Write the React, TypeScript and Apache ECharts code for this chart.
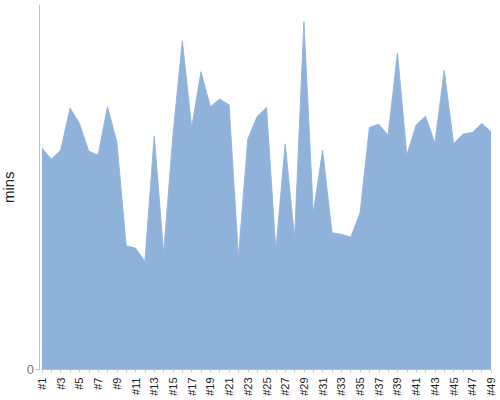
import React, { useEffect, useRef } from "react";
import * as echarts from "echarts";

const categories: string[] = Array.from({ length: 49 }, (_, i) => "#" + (i + 1));

const minutes: number[] = [
  60.7, 57.7, 60.2, 71.7, 67.5, 59.9, 58.8, 72.1, 62.5, 33.9,
  33.3, 29.6, 64.1, 31.9, 64.3, 90.2, 66.4, 81.7, 72.1, 74.2,
  72.6, 30.9, 63.2, 69.4, 71.9, 32.8, 61.9, 36.0, 95.4, 43.0,
  60.2, 37.5, 37.1, 36.3, 42.9, 66.4, 67.3, 64.3, 86.9, 58.8,
  67.1, 69.5, 62.1, 82.0, 61.9, 64.6, 65.0, 67.5, 65.2,
];

const yTickValues: number[] = [0];
const yMax = 100;

export default function App() {
  const ref = useRef<HTMLDivElement>(null);
  useEffect(() => {
    if (!ref.current) return;
    const chart = echarts.init(ref.current, undefined, { renderer: "svg" });
    chart.setOption({
      animation: false,
      textStyle: { fontFamily: "Liberation Sans, Arial, sans-serif" },
      grid: { left: 42, right: 9, top: 5, bottom: 30.5, containLabel: false, outerBoundsMode: "none" },
      xAxis: {
        type: "category",
        data: categories,
        boundaryGap: false,
        offset: 4,
        axisLine: { show: true, lineStyle: { color: "#c8c8c8", width: 1 } },
        axisTick: { show: true, alignWithLabel: true, interval: 0, length: 3, lineStyle: { color: "#c8c8c8" } },
        axisLabel: {
          interval: 1,
          rotate: 90,
          margin: 4,
          color: "#222",
          fontSize: 11,
          fontFamily: "Liberation Sans, Arial, sans-serif",
        },
        splitLine: { show: false },
      },
      yAxis: {
        type: "value",
        min: 0,
        max: yMax,
        offset: 3,
        name: "mins",
        nameLocation: "middle",
        nameGap: 16,
        nameRotate: 90,
        nameTextStyle: { color: "#222", fontSize: 15, fontFamily: "Liberation Sans, Arial, sans-serif" },
        axisLine: { show: true, lineStyle: { color: "#c0c0c0", width: 1 } },
        axisTick: { show: true, length: 3, customValues: yTickValues, lineStyle: { color: "#c0c0c0" } },
        axisLabel: {
          customValues: yTickValues,
          color: "#777",
          fontSize: 13,
          margin: 5,
          fontFamily: "Liberation Sans, Arial, sans-serif",
        },
        splitLine: { show: false },
      },
      series: [
        {
          type: "line",
          data: minutes,
          symbol: "none",
          smooth: false,
          lineStyle: { width: 1, color: "#95b6dc" },
          areaStyle: { color: "#8fb2da", opacity: 1 },
        },
      ],
    });
    return () => chart.dispose();
  }, []);
  return <div ref={ref} style={{ width: 500, height: 400, position: "absolute", left: 0, top: 0 }} />;
}
